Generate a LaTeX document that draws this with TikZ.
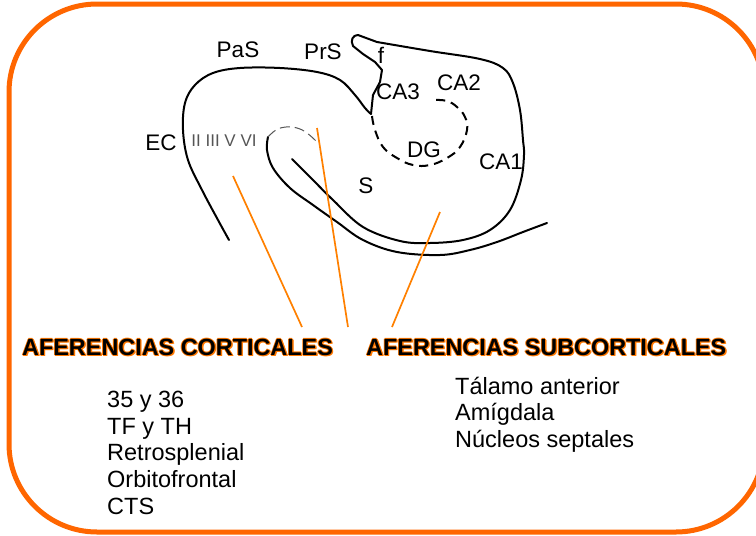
\documentclass[tikz,border=0pt]{standalone}
\usepackage{fontspec}
\setmainfont{Liberation Sans}
\definecolor{bord}{RGB}{255,102,0}
\definecolor{aff}{RGB}{255,128,0}
\definecolor{glow}{RGB}{255,120,0}
\definecolor{roman}{RGB}{85,85,85}
\newcommand{\glowtxt}[1]{%
 \rlap{\textcolor{glow}{\kern1.4pt\raisebox{-1.4pt}{#1}}}%
 \rlap{\textcolor{glow}{\kern1.1pt#1}}%
 \rlap{\textcolor{glow}{\raisebox{-1.1pt}{#1}}}%
 \rlap{\textcolor{glow}{\kern-0.8pt#1}}%
 \rlap{\textcolor{glow}{\raisebox{0.8pt}{#1}}}%
 #1}
\begin{document}
\begin{tikzpicture}[x=1pt,y=-1pt]
\tikzset{
 frame/.style={draw=bord, line width=5pt, rounded corners=88pt},
 hip/.style={line width=2pt, line join=round, line cap=round},
 dgline/.style={line width=2pt, dash pattern=on 9pt off 6pt},
 ecline/.style={line width=1pt, draw=roman, dash pattern=on 10pt off 5pt},
 affline/.style={draw=aff, line width=1.7pt},
 lab/.style={font=\fontsize{22.5}{26}\selectfont, inner sep=0pt},
 romanlab/.style={font=\fontsize{17}{20}\selectfont, text=roman, inner sep=0pt},
 head/.style={font=\fontsize{23.4}{28}\selectfont\bfseries, inner sep=0pt, anchor=base west},
 item/.style={font=\fontsize{23.5}{27}\selectfont, inner sep=0pt, anchor=base west},
}
\useasboundingbox (0,0) rectangle (756,536);
\draw[frame] (9,4) rectangle (764,532);

% hippocampus outline
\draw[hip] plot[smooth, tension=0.6] coordinates {(229,240) (218,220) (202,190) (188,160) (183,130) (185,103) (195,85) (213,73) (240,68) (280,68) (317,72) (340,80) (355,95) (365,108) (371,114)}
 -- (373,95) -- (380,82) -- (382,70) -- (375,62) -- (363,54) -- (353,46)
 .. controls (350,40) and (353,35) .. (358,35) -- (377,42)
 plot[smooth, tension=0.6] coordinates {(377,42) (430,51) (480,59) (503,68) (513,83) (520,110) (523,140) (524,155) (521,180) (510,210) (490,230) (463,240) (430,243) (400,241) (363,227) (333,200) (313,180) (292,159)};
\draw[hip] plot[smooth, tension=0.6] coordinates {(268,137) (267,150) (273,168) (290,188) (313,205) (337,222) (363,240) (397,252) (440,255) (470,250) (497,242) (523,232) (547,223)};
\draw[dgline] plot[smooth, tension=0.7] coordinates {(372,116) (375,130) (383,147) (397,158) (413,165) (430,165) (447,158) (460,147) (467,130) (465,117) (457,107) (447,101) (435,100)};
\draw[ecline] plot[smooth, tension=0.7] coordinates {(268,137) (276,130) (286,127) (297,128) (307,133) (317,142)};

% labels
\node[lab] (pas) at (238,50) {PaS};
\node[lab] (prs) at (323,52) {PrS};
\node[lab] (fl) at (381,55) {f};
\node[lab] (ca3) at (398,92) {CA3};
\node[lab] (ca2) at (459,83) {CA2};
\node[lab] (dg) at (424,150) {DG};
\node[lab] (ca1) at (501,162) {CA1};
\node[lab] (ec) at (161,143) {EC};
\node[lab] (s) at (366,186) {S};
\node[romanlab] (layers) at (224,141) {II III V VI};

% headings
\node[head] (hcort) at (22,355) {\glowtxt{AFERENCIAS CORTICALES}};
\node[head] (hsub) at (366,355) {\glowtxt{AFERENCIAS SUBCORTICALES}};

% afferent lines
\coordinate (a1) at (233,176);
\coordinate (a2) at (317,128);
\coordinate (a3) at (440,212);
\coordinate (b1) at (302,327);
\coordinate (b2) at (348,327);
\coordinate (b3) at (392,327);
\draw[affline] (a1) -- (b1);
\draw[affline] (a2) -- (b2);
\draw[affline] (a3) -- (b3);

% lists
\node[item] (c1) at (107,407) {35 y 36};
\node[item] (c2) at (107,434) {TF y TH};
\node[item] (c3) at (107,460) {Retrosplenial};
\node[item] (c4) at (107,487) {Orbitofrontal};
\node[item] (c5) at (107,514) {CTS};
\node[item] (s1) at (455,394) {Tálamo anterior};
\node[item] (s2) at (455,420) {Amígdala};
\node[item] (s3) at (455,447) {Núcleos septales};
\end{tikzpicture}
\end{document}
